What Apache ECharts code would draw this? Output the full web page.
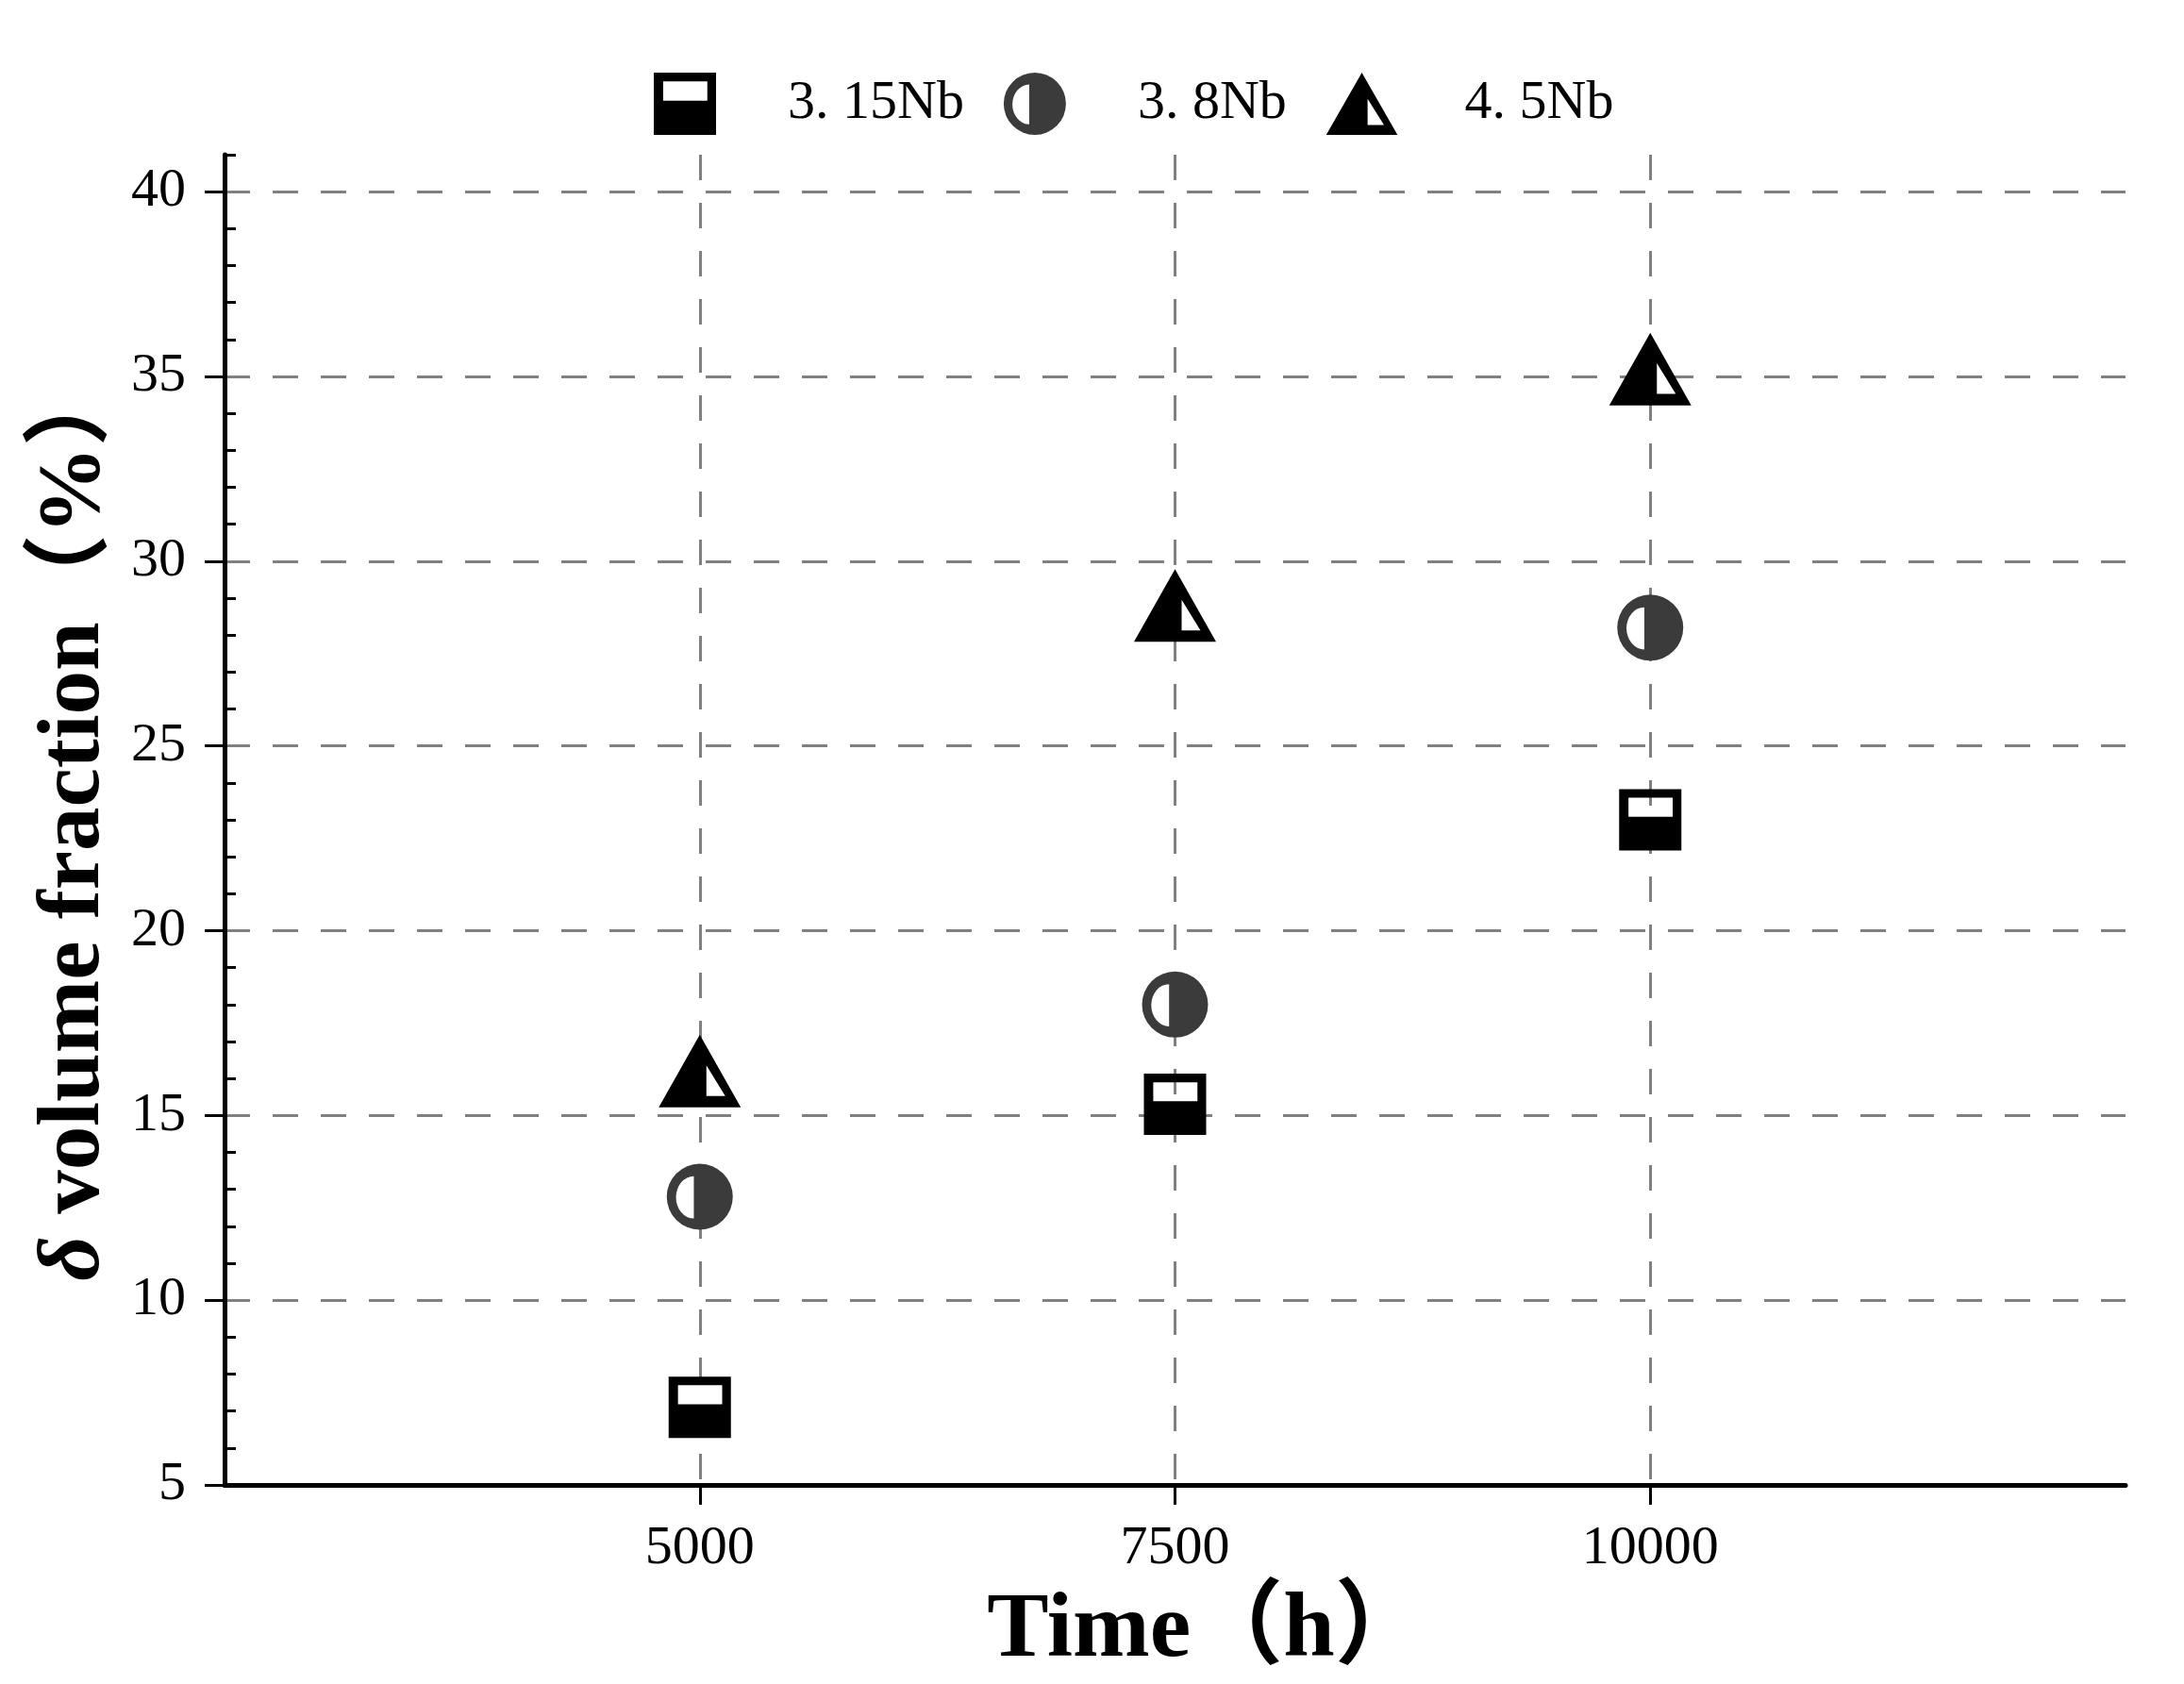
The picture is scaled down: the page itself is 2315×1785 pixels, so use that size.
<!DOCTYPE html>
<html><head><meta charset="utf-8">
<script src="https://cdn.jsdelivr.net/npm/echarts@6/dist/echarts.min.js"></script>
<style>html,body{margin:0;padding:0;background:#fff}#c{width:2315px;height:1785px}</style>
</head><body><div id="c"></div>
<script>
// ---- data ----
const times = [5000, 7500, 10000];
const nb315 = [7.1, 15.3, 23.0];
const nb38 = [12.8, 18.0, 28.2];
const nb45 = [16.2, 28.8, 35.2];
const seriesNames = ['3. 15Nb', '3. 8Nb', '4. 5Nb'];
const xTickValues = [5000, 7500, 10000];
const yTickValues = [5, 10, 15, 20, 25, 30, 35, 40];
const yMinorTickValues = [6,7,8,9,11,12,13,14,16,17,18,19,21,22,23,24,26,27,28,29,31,32,33,34,36,37,38,39,41];

// ---- symbols (with white inner marks) ----
const SQ = 'path://M0 0H100V100H0Z M15 14V45H86V14Z';
const CIRC = 'path://M50 0A50 50 0 0 1 100 50A50 50 0 0 1 50 100A50 50 0 0 1 0 50A50 50 0 0 1 50 0Z M41 19A27 32 0 0 0 14 51A27 32 0 0 0 41 83Z';
const TRI = 'path://M43.5 0L87 76H0Z M50.5 32V64H70.5Z';

const FONT = "'Liberation Serif', 'Times New Roman', 'Noto Sans CJK SC', serif";
const pts = arr => times.map((t, i) => [t, arr[i]]);
const plain = v => String(v);

const chart = echarts.init(document.getElementById('c'), null, {renderer: 'canvas'});
chart.setOption({
  backgroundColor: '#ffffff',
  animation: false,
  grid: {left: 238, right: 62, top: 164, bottom: 211, containLabel: false, outerBoundsMode: 'none'},
  legend: {
    left: 688, top: 72, itemWidth: 88, itemHeight: 66, itemGap: 42,
    symbolKeepAspect: true, selectedMode: false,
    textStyle: {fontSize: 58, fontFamily: FONT, color: '#000', padding: [0, 0, 0, 60]},
    data: seriesNames
  },
  xAxis: {
    type: 'value', min: 2500, max: 12500, interval: 2500,
    axisLine: {show: true, onZero: false, lineStyle: {color: '#000', width: 5}},
    axisTick: {show: true, inside: false, length: 21, customValues: xTickValues, lineStyle: {color: '#000', width: 3}},
    axisLabel: {customValues: xTickValues, formatter: plain, margin: 39, fontSize: 58, fontFamily: FONT, color: '#000'},
    splitLine: {show: true, showMinLine: true, showMaxLine: true, lineStyle: {color: '#808080', width: 3, type: [27, 24]}},
    name: 'Time（h）', nameLocation: 'middle', nameGap: 107,
    nameTextStyle: {fontSize: 98, fontWeight: 'bold', fontFamily: FONT, color: '#000', padding: [0, 0, 0, 68]}
  },
  yAxis: [{
    type: 'value', min: 5, max: 41, interval: 5, position: 'left',
    axisLine: {show: true, onZero: false, lineStyle: {color: '#000', width: 5}},
    axisTick: {show: true, inside: false, length: 21, customValues: yTickValues, lineStyle: {color: '#000', width: 3}},
    axisLabel: {customValues: yTickValues, formatter: plain, margin: 41, fontSize: 58, fontFamily: FONT, color: '#000'},
    splitLine: {show: true, showMinLine: false, showMaxLine: true, lineStyle: {color: '#808080', width: 3, type: [27, 24]}},
    name: '{i|δ} volume fraction（%）', nameLocation: 'middle', nameRotate: 90, nameGap: 112,
    nameTextStyle: {fontSize: 93, fontWeight: 'bold', fontFamily: FONT, color: '#000',
      rich: {i: {fontSize: 93, fontWeight: 'bold', fontStyle: 'italic', fontFamily: FONT, color: '#000'}}}
  }, {
    type: 'value', min: 5, max: 41, position: 'left', offset: 0,
    axisLine: {show: false, onZero: false},
    axisTick: {show: true, inside: true, length: 12, customValues: yMinorTickValues, lineStyle: {color: '#000', width: 3}},
    axisLabel: {show: false},
    splitLine: {show: false}
  }],
  series: [
    {name: seriesNames[0], type: 'scatter', yAxisIndex: 0, symbol: SQ, symbolSize: [66, 65],
     itemStyle: {color: '#000', opacity: 1}, data: pts(nb315)},
    {name: seriesNames[1], type: 'scatter', yAxisIndex: 0, symbol: CIRC, symbolSize: [70, 70],
     itemStyle: {color: '#3b3b3b', opacity: 1}, data: pts(nb38)},
    {name: seriesNames[2], type: 'scatter', yAxisIndex: 0, symbol: TRI, symbolSize: [87, 77],
     itemStyle: {color: '#000', opacity: 1}, data: pts(nb45)}
  ]
});
</script></body></html>
